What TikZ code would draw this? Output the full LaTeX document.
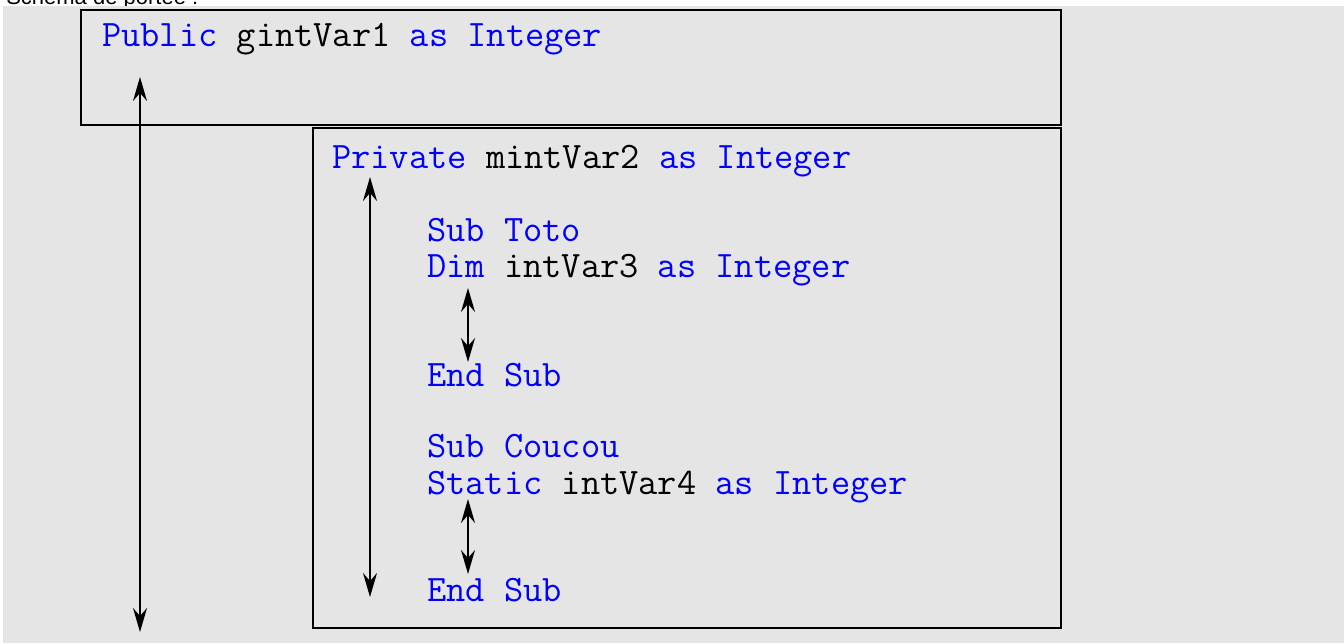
\documentclass[tikz,border=0pt]{standalone}
\usepackage{fontspec}
\setmainfont{Liberation Sans}
\usetikzlibrary{arrows.meta}
\definecolor{panelgray}{HTML}{E5E5E5}
\definecolor{kwblue}{HTML}{0000FF}
\newcommand{\kw}[1]{\textcolor{kwblue}{#1}}
\tikzset{
  code/.style={anchor=base west, inner sep=0pt, font=\ttfamily\fontsize{28pt}{32pt}\selectfont},
  scopebox/.style={draw=black, line width=1.5pt},
  span/.style={line width=1.5pt, {Stealth[length=18pt,width=10.5pt,inset=6pt]}-{Stealth[length=18pt,width=10.5pt,inset=6pt]}}
}
\begin{document}
\begin{tikzpicture}[x=0.75pt, y=-0.75pt]
  \useasboundingbox (0,0) rectangle (1344,643);
  \clip (0,0) rectangle (1344,643);
  % heading line above the panel
  \node[anchor=base west, inner sep=0pt, font=\fontsize{16.5pt}{20pt}\selectfont] (title) at (6,4) {Schéma de portée :};
  % grey panel
  \fill[panelgray] (3,6) rectangle (1344,643);
  % module-level and form-level scopes
  \draw[scopebox] (81,10) rectangle (1061,125);
  \draw[scopebox] (313,128) rectangle (1061,628);
  % code lines
  \node[code] (pub)  at (102,46)  {\kw{Public} gintVar1 \kw{as} \kw{Integer}};
  \node[code] (priv) at (332,168) {\kw{Private} mintVar2 \kw{as} \kw{Integer}};
  \node[code] (sub1) at (427,241) {\kw{Sub Toto}};
  \node[code] (dim)  at (427,277) {\kw{Dim} intVar3 \kw{as} \kw{Integer}};
  \node[code] (end1) at (427,386) {\kw{End Sub}};
  \node[code] (sub2) at (427,457) {\kw{Sub Coucou}};
  \node[code] (stat) at (427,494) {\kw{Static} intVar4 \kw{as} \kw{Integer}};
  \node[code] (end2) at (427,601) {\kw{End Sub}};
  % lifetime spans
  \coordinate (gTop) at (140,77);   \coordinate (gBot) at (140,632);
  \coordinate (mTop) at (370,177);  \coordinate (mBot) at (370,597);
  \coordinate (aTop) at (468,288);  \coordinate (aBot) at (468,362);
  \coordinate (bTop) at (468,499);  \coordinate (bBot) at (468,574);
  \draw[span] (gTop) -- (gBot);
  \draw[span] (mTop) -- (mBot);
  \draw[span] (aTop) -- (aBot);
  \draw[span] (bTop) -- (bBot);
\end{tikzpicture}
\end{document}
